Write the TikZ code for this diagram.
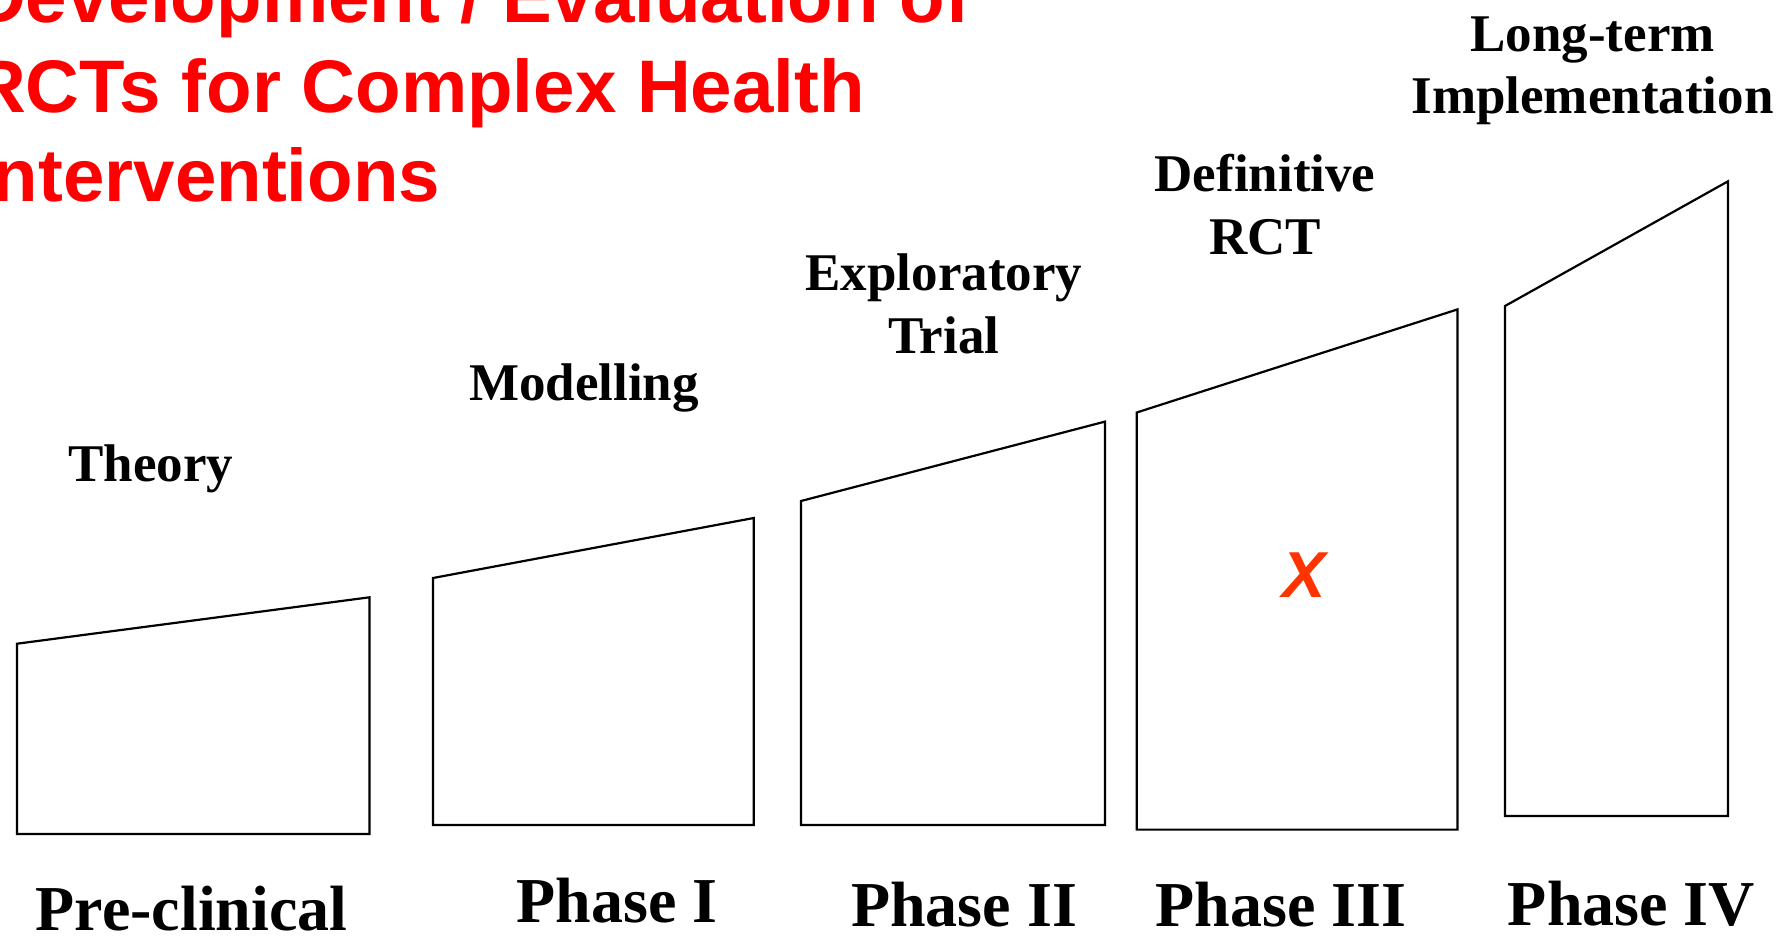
\documentclass[tikz,border=0pt]{standalone}
\usepackage{fontspec}
\setmainfont{Liberation Serif}
\newfontfamily\headfont{Liberation Sans}
\definecolor{titlered}{HTML}{FF0000}
\definecolor{markred}{HTML}{FF3300}
\begin{document}
\begin{tikzpicture}[x=1pt,y=-1pt,
  phasebox/.style={draw=black, line width=2.2pt, line join=miter},
  stage/.style={inner sep=0pt, anchor=base, font=\bfseries\fontsize{53}{63}\selectfont},
  phase/.style={inner sep=0pt, anchor=base, font=\bfseries\fontsize{64}{76}\selectfont},
  heading/.style={inner sep=0pt, anchor=base west, text=titlered,
    font=\headfont\bfseries\fontsize{74.5}{89}\selectfont}]
\useasboundingbox (0,0) rectangle (1777,937);

% title
\node[heading] (t1) at (-28,22.7) {Development / Evaluation of};
\node[heading] (t2) at (-28,112.7) {RCTs for Complex Health};
\node[heading] (t3) at (-28,201.7) {Interventions};

% rising blocks, one per phase
\draw[phasebox] (17,834) -- (17,643.7) -- (369.5,597.3) -- (369.5,834) -- cycle;
\draw[phasebox] (433,825) -- (433,578) -- (753.7,518) -- (753.7,825) -- cycle;
\draw[phasebox] (801,825) -- (801,501) -- (1105,421.6) -- (1105,825) -- cycle;
\draw[phasebox] (1136.7,829.6) -- (1136.7,412.5) -- (1457.5,309.4) -- (1457.5,829.6) -- cycle;
\draw[phasebox] (1505,816) -- (1505,306) -- (1728,181.3) -- (1728,816) -- cycle;

% stage names above the blocks
\node[stage] (theory) at (151,481.7) {Theory};
\node[stage] (model) at (584,400) {Modelling};
\node[stage] (explA) at (944,290) {Exploratory};
\node[stage] (explB) at (944,353) {Trial};
\node[stage] (defA) at (1265,191) {Definitive};
\node[stage] (defB) at (1265,254) {RCT};
\node[stage] (longA) at (1592.5,51) {Long-term};
\node[stage] (longB) at (1592.5,113) {Implementation};

% phase names below the blocks
\node[phase] (p0) at (191.5,930) {Pre-clinical};
\node[phase] (p1) at (617,922) {Phase I};
\node[phase] (p2) at (964,926) {Phase II};
\node[phase] (p3) at (1281,926) {Phase III};
\node[phase] (p4) at (1631.5,925) {Phase IV};

% mark inside the Phase III block
\node[inner sep=0pt, text=markred, font=\headfont\bfseries\itshape\fontsize{65}{78}\selectfont]
  (mark) at (1304,575) {X};
\end{tikzpicture}
\end{document}
